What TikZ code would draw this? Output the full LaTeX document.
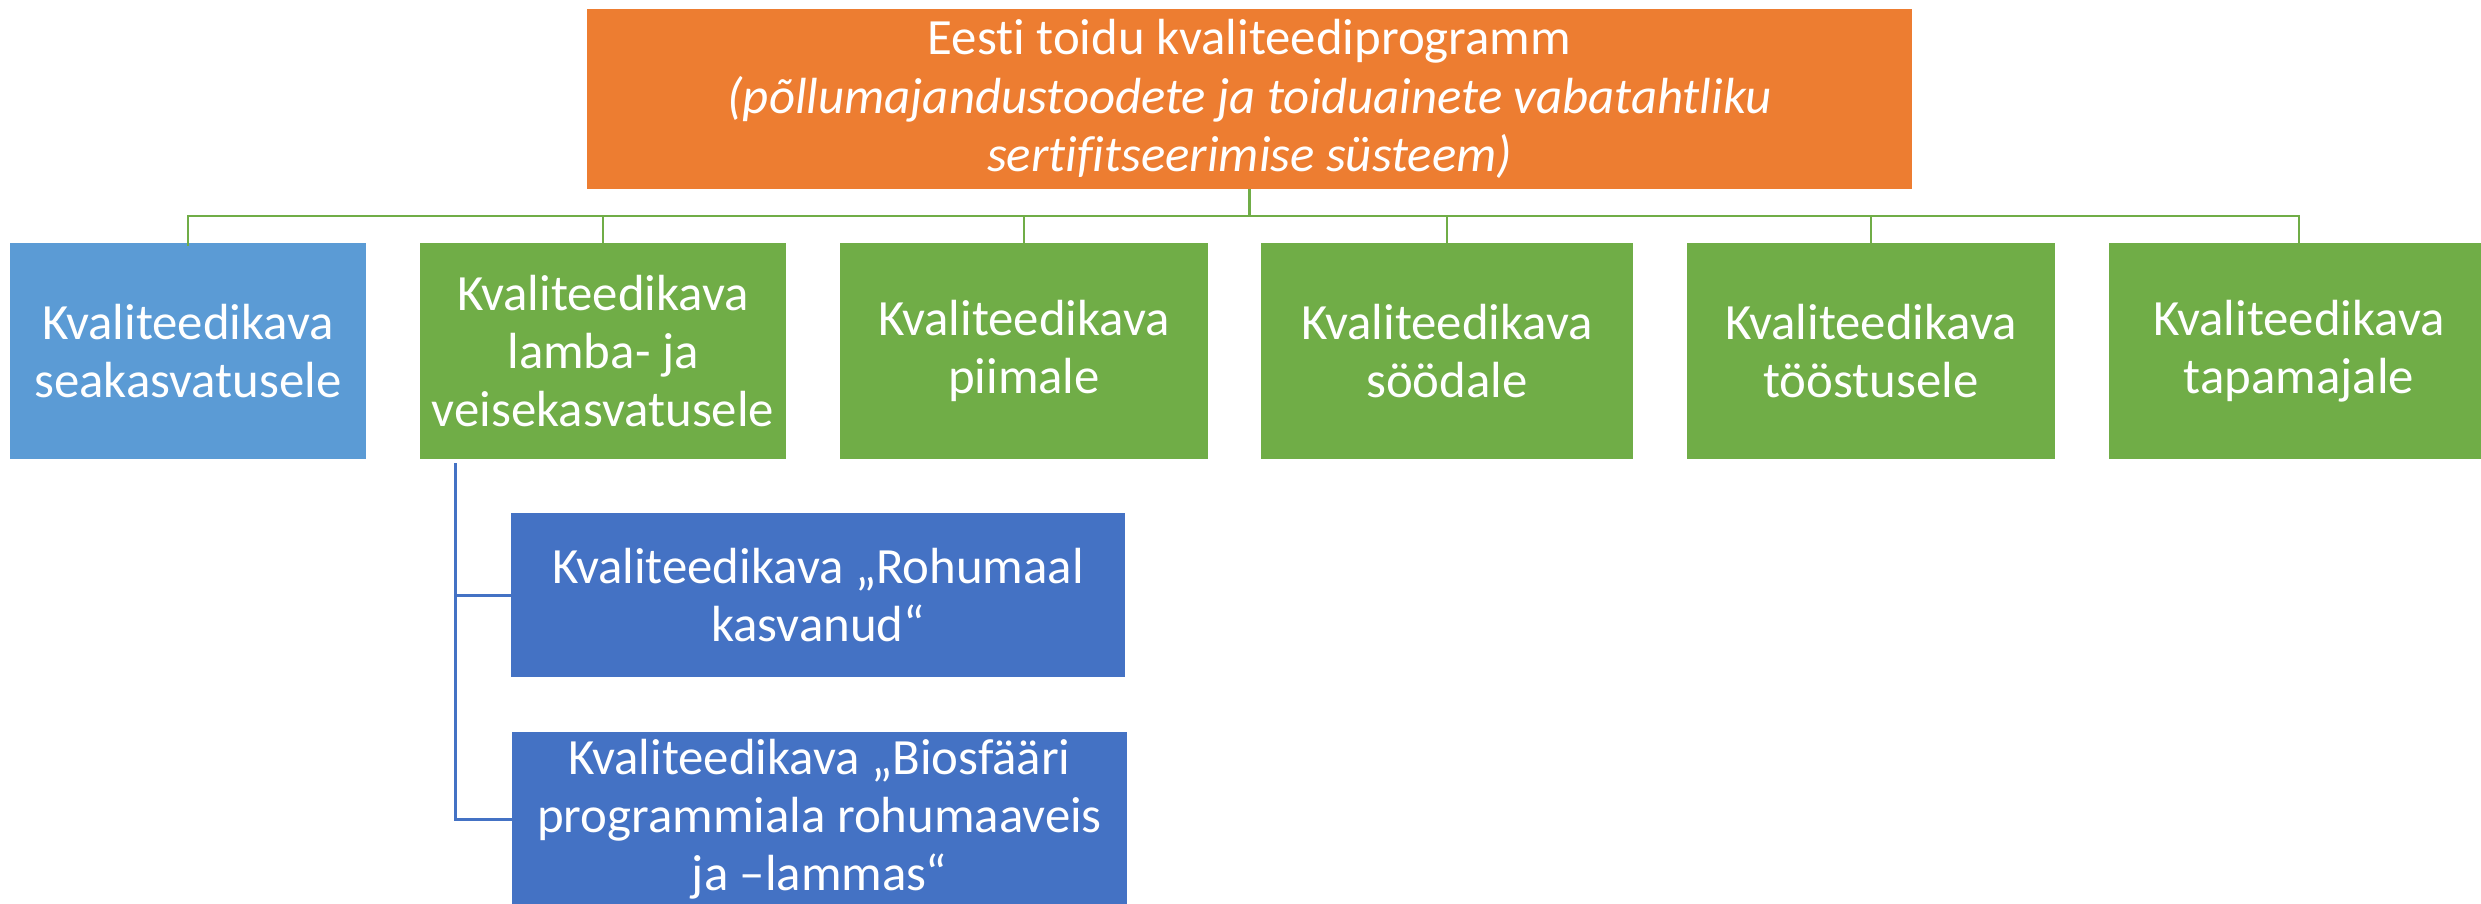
\documentclass[tikz,border=0pt]{standalone}
\usepackage{fontspec}
\setmainfont{Carlito}[Ligatures=NoCommon]
\definecolor{orangeC}{HTML}{ED7D31}
\definecolor{greenC}{HTML}{70AD47}
\definecolor{lblueC}{HTML}{5B9BD5}
\definecolor{dblueC}{HTML}{4472C4}
\tikzset{
  box/.style={rectangle, inner sep=0pt, text=white, align=center,
    font=\fontsize{51}{58.5}\selectfont},
  topbox/.style={box, fill=orangeC, minimum width=1325bp, minimum height=180bp},
  kidbox/.style={box, fill=greenC, minimum height=216bp},
  subbox/.style={box, fill=dblueC},
  gline/.style={draw=greenC, line width=2.7bp},
  bline/.style={draw=dblueC, line width=3bp}
}
\begin{document}
\begin{tikzpicture}[x=1bp, y=-1bp]
\useasboundingbox (0,0) rectangle (2481,903);
\clip (0,0) rectangle (2481,903);
\node[topbox] (top) at (1249.5,99) {Eesti toidu kvaliteediprogramm\\\itshape (põllumajandustoodete ja toiduainete vabatahtliku\\\itshape sertifitseerimise süsteem)};
\node[kidbox, fill=lblueC, minimum width=356bp] (c1) at (188,351) {Kvaliteedikava\\seakasvatusele};
\node[kidbox, minimum width=366bp] (c2) at (603,351) {Kvaliteedikava\\lamba- ja\\veisekasvatusele};
\node[kidbox, minimum width=368bp] (c3) at (1024,351) {Kvaliteedikava\\piimale};
\node[kidbox, minimum width=372bp] (c4) at (1447,351) {Kvaliteedikava\\söödale};
\node[kidbox, minimum width=368bp] (c5) at (1871,351) {Kvaliteedikava\\tööstusele};
\node[kidbox, minimum width=380bp] (c6) at (2299,351) {Kvaliteedikava\\tapamajale};
\node[subbox, minimum width=614bp, minimum height=164bp] (sa) at (818,595) {Kvaliteedikava „Rohumaal\\kasvanud“};
\node[subbox, minimum width=615bp, minimum height=174bp] (sb) at (819.5,819) {Kvaliteedikava „Biosfääri\\programmiala rohumaaveis\\ja –lammas“};
\coordinate (bus) at (1249.5,216);
\foreach \c in {c1,c2,c3,c4,c5,c6}{
  \draw[gline] (top.south) -- (bus) -| ([yshift=-3bp]\c.north);
}
\coordinate (hub) at (455,463);
\draw[bline] (hub) |- (sa.west);
\draw[bline] (hub) |- (sb.west);
\end{tikzpicture}
\end{document}
